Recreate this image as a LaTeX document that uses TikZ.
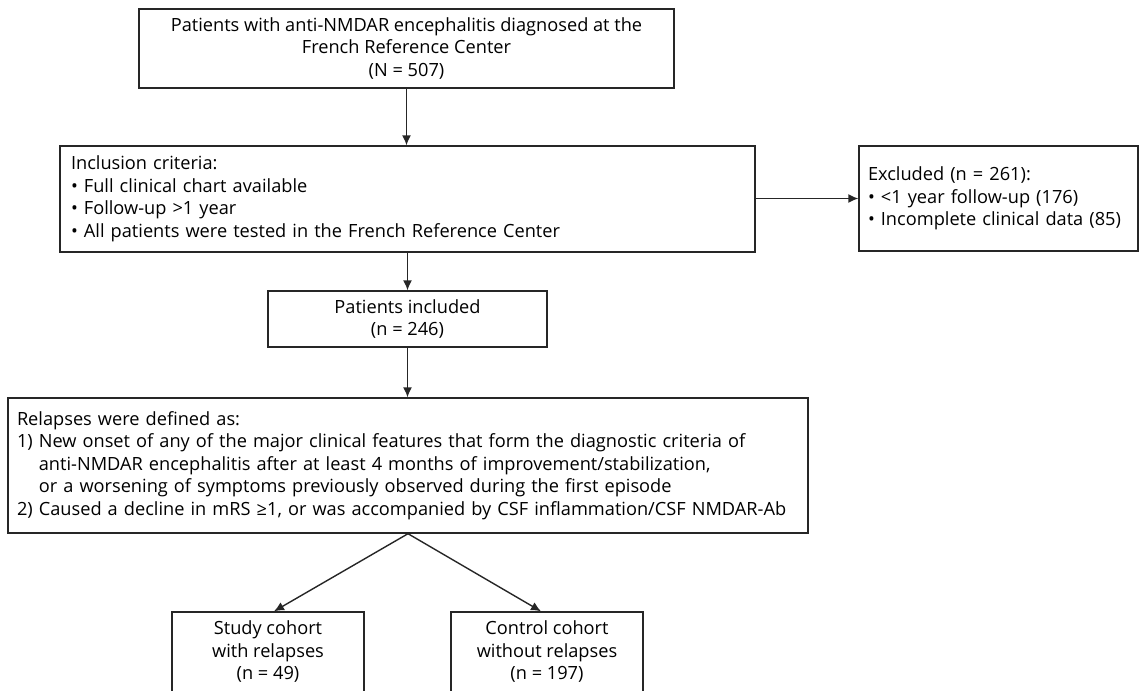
\documentclass[tikz,border=0pt]{standalone}
\usepackage{fontspec}
\setmainfont{Open Sans}
\usetikzlibrary{arrows.meta}
\definecolor{boxline}{rgb}{0.15, 0.15, 0.15}

\begin{document}
\begin{tikzpicture}[x=1pt,y=-1pt,
  box/.style={draw=boxline,line width=1.4pt,inner sep=0pt,font=\fontsize{18.2}{22.5}\selectfont},
  listbox/.style={box,align=left,inner xsep=9pt},
  arr/.style={draw=boxline,line width=1.4pt,-{Latex[length=10pt,width=9pt]}}]
\useasboundingbox (0,0) rectangle (1139,690);
\clip (0,0) rectangle (1139,690);
%================================================================
%	Boxes
\node[box,minimum width=535,minimum height=79,align=center] (all) at (406.5,48.5)
  {Patients with anti-NMDAR encephalitis diagnosed at the\\French Reference Center\\(N = 507)};
\node[listbox,minimum width=695,minimum height=106,text width=673,inner xsep=11pt] (incl) at (407.5,199)
  {Inclusion criteria:\\• Full clinical chart available\\• Follow-up >1 year\\• All patients were tested in the French Reference Center};
\node[listbox,minimum width=279,minimum height=105,text width=261] (excl) at (998.5,198.5)
  {Excluded (n = 261):\\• <1 year follow-up (176)\\• Incomplete clinical data (85)};
\node[box,minimum width=279,minimum height=56,align=center] (incd) at (407.5,319)
  {Patients included\\(n = 246)};
\node[listbox,minimum width=800,minimum height=135,text width=782] (rel) at (408,465.5)
  {Relapses were defined as:\\
   1) New onset of any of the major clinical features that form the diagnostic criteria of\\
   \phantom{1) }anti-NMDAR encephalitis after at least 4 months of improvement/stabilization,\\
   \phantom{1) }or a worsening of symptoms previously observed during the first episode\\
   2) Caused a decline in mRS ≥1, or was accompanied by CSF inflammation/CSF NMDAR-Ab};
%----------------------------------------------------------------
\node[box,minimum width=192,minimum height=80,align=center] (study) at (268,652)
  {Study cohort\\with relapses\\(n = 49)};
\node[box,minimum width=192,minimum height=80,align=center] (ctrl) at (547,652)
  {Control cohort\\without relapses\\(n = 197)};
%================================================================
%	Arrows
\draw[arr] (all.south) -- (all.south |- incl.north);
\draw[arr] (incl.east |- excl.west) -- (excl.west);
\draw[arr] (incl.south) -- (incd.north);
\draw[arr] (incd.south) -- (incd.south |- rel.north);
\draw[arr] (rel.south) -- ([xshift=6pt]study.north);
\draw[arr] (rel.south) -- ([xshift=-6pt]ctrl.north);
%================================================================
\end{tikzpicture}
\end{document}
